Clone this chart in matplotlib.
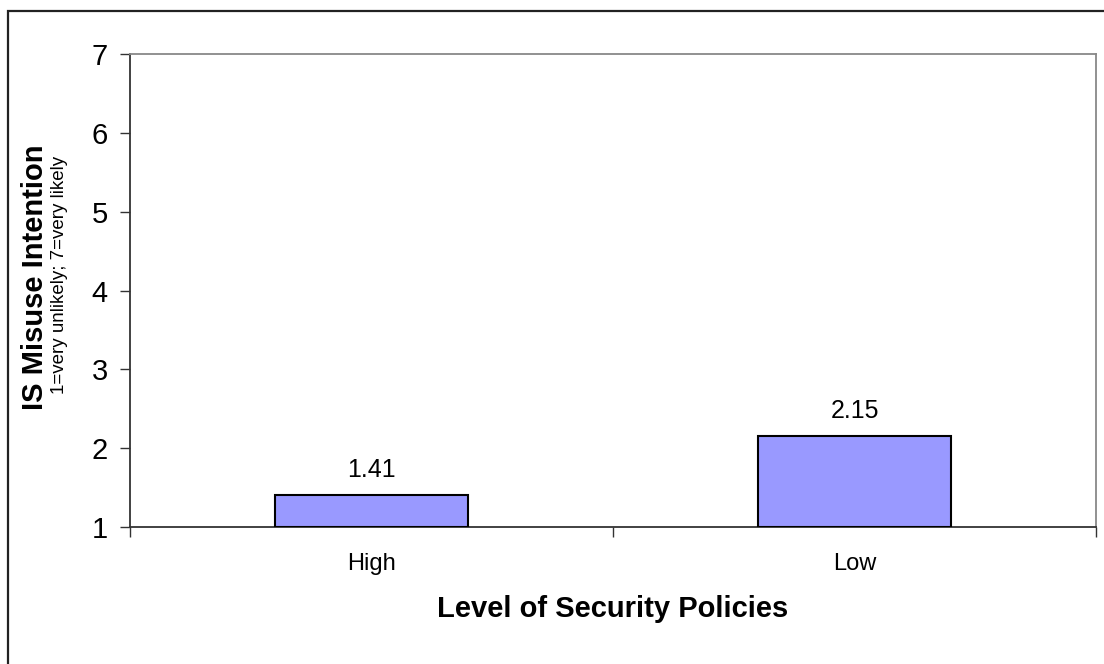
import matplotlib
matplotlib.use("Agg")
import matplotlib.pyplot as plt
from matplotlib.patches import Rectangle

categories = ["High", "Low"]
values = [1.41, 2.15]
value_labels = ["1.41", "2.15"]
y_ticks = [1, 2, 3, 4, 5, 6, 7]

plt.rcParams['font.family'] = ['Liberation Sans', 'DejaVu Sans']

W, H = 1104, 664
fig = plt.figure(figsize=(W / 100, H / 100), dpi=100)
fig.patch.set_facecolor('white')

# outer chart frame
fig.patches.append(Rectangle((8 / W, -0.1), 1.2, (H - 11) / H + 0.1,
                             transform=fig.transFigure, fill=False,
                             edgecolor='#222222', linewidth=1.6))

ax = fig.add_axes([130 / W, (H - 527) / H, 966 / W, 473 / H])
x = list(range(len(categories)))
ax.bar(x, [v - 1 for v in values], bottom=1, width=0.4,
       color='#9999FF', edgecolor='black', linewidth=1.5, zorder=3)

ax.set_xlim(-0.5, len(categories) - 0.5)
ax.set_ylim(1, 7)
ax.set_yticks(y_ticks)
ax.set_yticklabels([str(t) for t in y_ticks], fontsize=21)
ax.tick_params(axis='y', direction='out', length=7, width=1, color='#333333', pad=9)

ax.set_xticks(x)
ax.set_xticklabels(categories, fontsize=17)
ax.tick_params(axis='x', which='major', length=0, pad=19)
ax.set_xticks([i - 0.5 for i in range(len(categories) + 1)], minor=True)
ax.tick_params(axis='x', which='minor', direction='out', length=7, width=1, color='#333333')

for s in ['left', 'bottom']:
    ax.spines[s].set_color('#333333')
    ax.spines[s].set_linewidth(1.3)
for s in ['top', 'right']:
    ax.spines[s].set_color('#888888')
    ax.spines[s].set_linewidth(1.3)

for xi, v, lab in zip(x, values, value_labels):
    ax.annotate(lab, (xi, v), xytext=(0, 13), textcoords='offset points',
                ha='center', va='baseline', fontsize=18)

ax.set_xlabel("Level of Security Policies", fontsize=21, fontweight='bold', labelpad=14)

fig.text(35 / W, 1 - 277 / H, "IS Misuse Intention", rotation=90, fontsize=21,
         fontweight='bold', ha='center', va='center')
fig.text(59 / W, 1 - 275 / H, "1=very unlikely; 7=very likely", rotation=90,
         fontsize=13.5, ha='center', va='center')

fig.savefig("out.png", dpi=100, facecolor='white')
